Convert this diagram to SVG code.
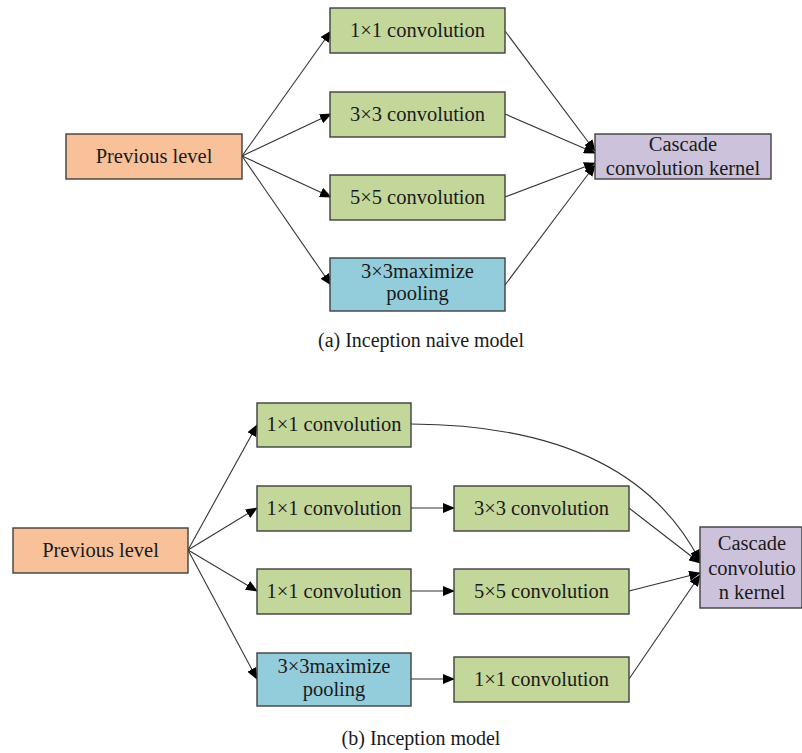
<svg xmlns="http://www.w3.org/2000/svg" width="802" height="753" viewBox="0 0 802 753">
<defs>
<style>
.box{stroke:#3f3f3f;stroke-width:1.4}
.prev{fill:#F9C19A}
.conv{fill:#C4D79B}
.pool{fill:#93CDDC}
.casc{fill:#CDC2DB}
text{font-size:20.5px;fill:#1a1a1a;text-anchor:middle}
.cap{font-size:20px}
.ln{stroke:#333;stroke-width:1.1;fill:none;marker-end:url(#ah)}
</style>
<marker id="ah" markerUnits="userSpaceOnUse" markerWidth="12" markerHeight="10" refX="11" refY="5" orient="auto">
<path d="M0,0 L12,5 L0,10 Z" fill="#000"/>
</marker>
</defs>
<rect width="802" height="753" fill="#fff"/>

<g id="connectors">
<line class="ln" x1="242" y1="156" x2="331" y2="31"/>
<line class="ln" x1="242" y1="156" x2="331" y2="114"/>
<line class="ln" x1="242" y1="156" x2="331" y2="197"/>
<line class="ln" x1="242" y1="156" x2="331" y2="285"/>
<line class="ln" x1="505" y1="31" x2="595" y2="151"/>
<line class="ln" x1="505" y1="114" x2="595" y2="153"/>
<line class="ln" x1="505" y1="197" x2="595" y2="163"/>
<line class="ln" x1="505" y1="285" x2="595" y2="165"/>

<line class="ln" x1="188" y1="550" x2="257" y2="425"/>
<line class="ln" x1="188" y1="550" x2="257" y2="508"/>
<line class="ln" x1="188" y1="550" x2="257" y2="591"/>
<line class="ln" x1="188" y1="550" x2="257" y2="679"/>
<line class="ln" x1="411" y1="508" x2="454" y2="508"/>
<line class="ln" x1="411" y1="591" x2="454" y2="591"/>
<line class="ln" x1="411" y1="679" x2="454" y2="679"/>
<path class="ln" d="M411,424 Q630,425 700,561"/>
<line class="ln" x1="629" y1="508" x2="700" y2="563"/>
<line class="ln" x1="629" y1="591" x2="700" y2="573"/>
<line class="ln" x1="629" y1="679" x2="700" y2="575"/>
</g>

<g font-family="'Liberation Serif', 'DejaVu Serif', 'Times New Roman', serif">
<g id="a-prev"><rect class="box prev" x="66" y="134" width="176" height="45"/><text x="154" y="163">Previous level</text></g>
<g id="a-conv1"><rect class="box conv" x="330" y="8" width="175" height="45"/><text x="417.5" y="37">1×1 convolution</text></g>
<g id="a-conv3"><rect class="box conv" x="330" y="92" width="175" height="45"/><text x="417.5" y="121">3×3 convolution</text></g>
<g id="a-conv5"><rect class="box conv" x="330" y="175" width="175" height="45"/><text x="417.5" y="204">5×5 convolution</text></g>
<g id="a-pool"><rect class="box pool" x="330" y="258" width="175" height="53"/><text x="417.5" y="278">3×3maximize</text><text x="417.5" y="300">pooling</text></g>
<g id="a-casc"><rect class="box casc" x="595" y="134" width="176" height="45"/><text x="683" y="151">Cascade</text><text x="683" y="175">convolution kernel</text></g>
<text class="cap" x="421" y="347">(a) Inception naive model</text>

<g id="b-prev"><rect class="box prev" x="13" y="528" width="175" height="45"/><text x="100.5" y="557">Previous level</text></g>
<g id="b-conv1a"><rect class="box conv" x="257" y="403" width="154" height="44"/><text x="334" y="431">1×1 convolution</text></g>
<g id="b-conv1b"><rect class="box conv" x="257" y="486" width="154" height="45"/><text x="334" y="515">1×1 convolution</text></g>
<g id="b-conv1c"><rect class="box conv" x="257" y="569" width="154" height="45"/><text x="334" y="598">1×1 convolution</text></g>
<g id="b-pool"><rect class="box pool" x="257" y="653" width="154" height="53"/><text x="334" y="673">3×3maximize</text><text x="334" y="696">pooling</text></g>
<g id="b-conv3"><rect class="box conv" x="454" y="486" width="175" height="45"/><text x="541.5" y="515">3×3 convolution</text></g>
<g id="b-conv5"><rect class="box conv" x="454" y="569" width="175" height="45"/><text x="541.5" y="598">5×5 convolution</text></g>
<g id="b-conv1d"><rect class="box conv" x="454" y="657" width="175" height="45"/><text x="541.5" y="686">1×1 convolution</text></g>
<g id="b-casc"><rect class="box casc" x="700" y="527" width="102" height="81"/><text x="752" y="550">Cascade</text><text x="752" y="575">convolutio</text><text x="752" y="599">n kernel</text></g>
<text class="cap" x="421" y="745">(b) Inception model</text>
</g>
</svg>
